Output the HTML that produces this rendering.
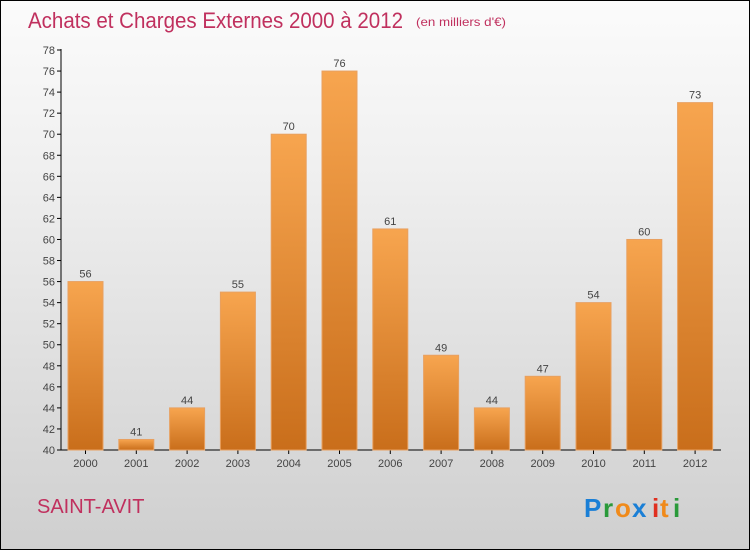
<!DOCTYPE html>
<html><head><meta charset="utf-8"><style>
body{margin:0;width:750px;height:550px;overflow:hidden;font-family:"Liberation Sans",sans-serif}
#wrap{position:absolute;left:0;top:0;width:748px;height:548px;border:1px solid #000;background:linear-gradient(#fbfbfb,#f0f0f0 30%,#cfcfcf)}
</style></head><body>
<div id="wrap">
<svg width="748" height="548" style="position:absolute;left:0;top:0">
<defs><linearGradient id="bg" x1="0" y1="0" x2="0" y2="1"><stop offset="0" stop-color="#f7a54f"/><stop offset="1" stop-color="#c96e1b"/></linearGradient></defs>
<text x="27" y="27" font-size="22" fill="#c0305e" textLength="375" lengthAdjust="spacingAndGlyphs">Achats et Charges Externes 2000 à 2012</text>
<text x="415" y="25" font-size="12" fill="#c0305e" textLength="90" lengthAdjust="spacingAndGlyphs">(en milliers d'€)</text>
<g id="axes"></g><g id="bars"></g>
<text x="36" y="512" font-size="20" fill="#c0305e">SAINT-AVIT</text>
<g font-size="26" font-weight="bold" font-family="Liberation Sans,sans-serif">
<text x="583" y="516" fill="#1a7fd6">P</text><text x="602" y="516" fill="#2a9a3a">r</text><text x="614" y="516" fill="#f08a1a">o</text><text x="631" y="516" fill="#1a7fd6">x</text><text x="651" y="516" fill="#e03020">i</text><text x="659" y="516" fill="#f08a1a">t</text><text x="672" y="516" fill="#2a9a3a">i</text></g>
</svg></div>
<script>
const years=["2000","2001","2002","2003","2004","2005","2006","2007","2008","2009","2010","2011","2012"];
const values=[56,41,44,55,70,76,61,49,44,47,54,60,73];
const yTicks=[40,42,44,46,48,50,52,54,56,58,60,62,64,66,68,70,72,74,76,78];
const NS="http://www.w3.org/2000/svg";
const y=v=>449-(v-40)*(400/38);
const x=i=>85.5-1+i*50.8;
function mk(t,a,p){const e=document.createElementNS(NS,t);for(const k in a)e.setAttribute(k,a[k]);p.appendChild(e);return e;}
const ax=document.getElementById('axes'),bs=document.getElementById('bars');
const yl=mk('line',{x1:60,y1:48,x2:60,y2:449,stroke:'#000'},ax);


const xl=mk('line',{x1:60,y1:449,x2:720,y2:449,stroke:'#000'},ax);


yTicks.forEach(v=>{mk('line',{x1:56,x2:60,y1:y(v),y2:y(v),stroke:'#000'},ax);
const t=mk('text',{x:54,y:y(v)+4,'font-size':11,fill:'#444','text-anchor':'end'},ax);t.textContent=v;

});
years.forEach((yr,i)=>{const cx=x(i);
mk('line',{x1:cx,x2:cx,y1:449,y2:453,stroke:'#000'},ax);
const t=mk('text',{x:cx,y:466,'font-size':11,fill:'#444','text-anchor':'middle'},ax);t.textContent=yr;


const r=mk('rect',{x:cx-17.5,y:y(values[i]),width:35,height:449-y(values[i]),fill:'url(#bg)',stroke:'#e8a060','stroke-width':1},bs);


const l=mk('text',{x:cx,y:y(values[i])-4,'font-size':11,fill:'#444','text-anchor':'middle'},bs);l.textContent=values[i];

});
</script>
</body></html>
